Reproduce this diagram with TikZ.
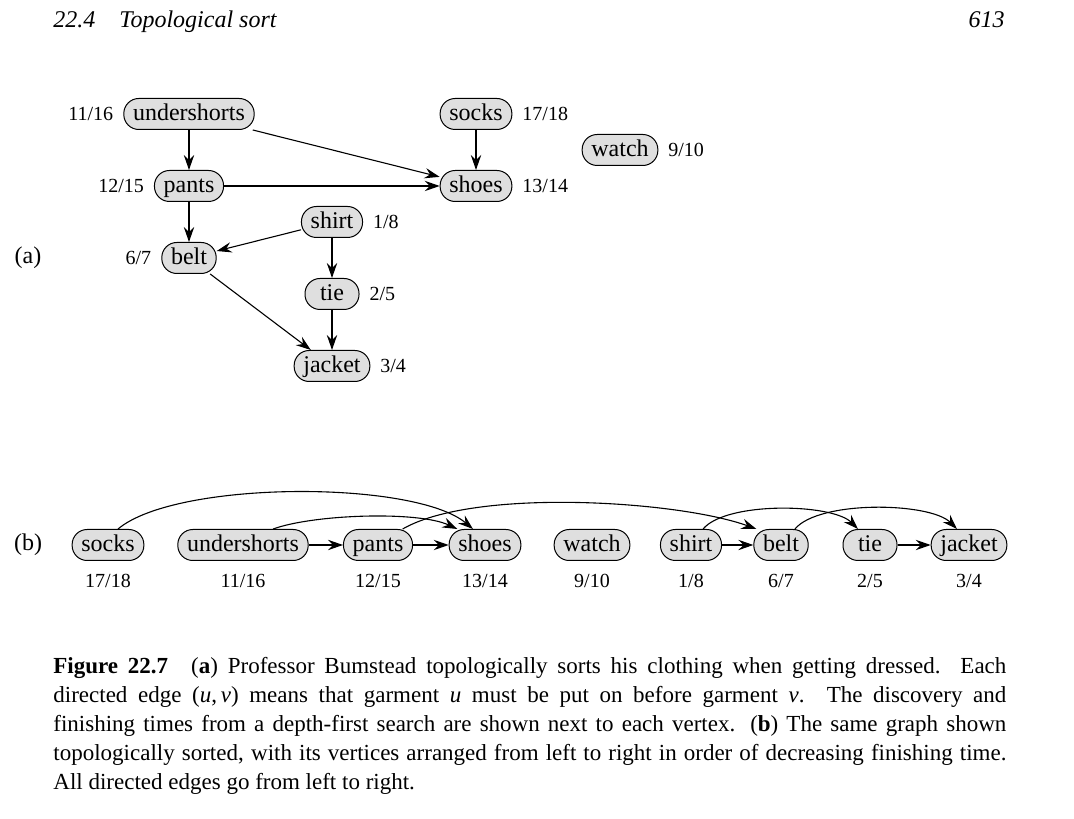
\documentclass[tikz,border=0pt]{standalone}
\usepackage{fontspec}
\setmainfont{Liberation Serif}
\usetikzlibrary{arrows.meta, positioning}

\tikzset{
  vertex/.style={draw, fill=gray!25, line width=0.5pt, rounded corners=7.5pt,
    minimum height=15.5pt, minimum width=27pt, inner xsep=4.6pt, inner ysep=2.25pt,
    text height=8.7pt, text depth=2.3pt, font=\fontsize{12}{14}\selectfont},
  stamp/.style={font=\fontsize{10}{12}\selectfont},
  edge/.style={-{Stealth[length=7.5pt,width=5.2pt,inset=2.6pt]}, line width=0.55pt},
}

\begin{document}
\begin{tikzpicture}[x=0.5pt, y=0.5pt, label distance=1.5pt]
  \useasboundingbox (0,0) rectangle (1074,818);

  % running head
  \node[anchor=base west, inner sep=0pt, font=\fontsize{12}{14}\selectfont\itshape] (head) at (53,790) {22.4\quad Topological sort};
  \node[anchor=base east, inner sep=0pt, font=\fontsize{12}{14}\selectfont\itshape] (page) at (1005,790) {613};

  % (a) the dag with discovery/finishing times
  \node[font=\fontsize{12}{14}\selectfont] (tag-a) at (28,560) {(a)};
  \node[vertex, label={[stamp]left:11/16}] (undershorts) at (189,704) {undershorts};
  \node[vertex, label={[stamp]right:17/18}] (socks) at (476,704) {socks};
  \node[vertex, label={[stamp]right:9/10}] (watch) at (620,668) {watch};
  \node[vertex, label={[stamp]left:12/15}] (pants) at (189,632) {pants};
  \node[vertex, label={[stamp]right:13/14}] (shoes) at (476,632) {shoes};
  \node[vertex, label={[stamp]right:1/8}] (shirt) at (332,596) {shirt};
  \node[vertex, label={[stamp]left:6/7}] (belt) at (189,560) {belt};
  \node[vertex, label={[stamp]right:2/5}] (tie) at (332,524) {tie};
  \node[vertex, label={[stamp]right:3/4}] (jacket) at (332,452) {jacket};

  \draw[edge] (undershorts) -- (pants);
  \draw[edge] (undershorts) -- (shoes);
  \draw[edge] (pants) -- (shoes);
  \draw[edge] (socks) -- (shoes);
  \draw[edge] (pants) -- (belt);
  \draw[edge] (shirt) -- (belt);
  \draw[edge] (shirt) -- (tie);
  \draw[edge] (tie) -- (jacket);
  \draw[edge] (belt) -- (jacket);

  % (b) the same vertices, topologically sorted
  \node[font=\fontsize{12}{14}\selectfont] (tag-b) at (28,273) {(b)};
  \begin{scope}[label distance=3pt]
    \node[vertex, label={[stamp]below:17/18}] (b-socks) at (108,273) {socks};
    \node[vertex, label={[stamp]below:11/16}] (b-undershorts) at (243,273) {undershorts};
    \node[vertex, label={[stamp]below:12/15}] (b-pants) at (378,273) {pants};
    \node[vertex, label={[stamp]below:13/14}] (b-shoes) at (485,273) {shoes};
    \node[vertex, label={[stamp]below:9/10}] (b-watch) at (592,273) {watch};
    \node[vertex, label={[stamp]below:1/8}] (b-shirt) at (691,273) {shirt};
    \node[vertex, label={[stamp]below:6/7}] (b-belt) at (781,273) {belt};
    \node[vertex, label={[stamp]below:2/5}] (b-tie) at (870,273) {tie};
    \node[vertex, label={[stamp]below:3/4}] (b-jacket) at (969,273) {jacket};
  \end{scope}

  \draw[edge] (b-undershorts) -- (b-pants);
  \draw[edge] (b-pants) -- (b-shoes);
  \draw[edge] (b-shirt) -- (b-belt);
  \draw[edge] (b-tie) -- (b-jacket);
  \draw[edge] (b-socks.58) to[out=40, in=140, looseness=0.55] (b-shoes.127);
  \draw[edge] (b-undershorts.28) to[out=20, in=155, looseness=0.6] (b-shoes.150);
  \draw[edge] (b-pants.33) to[out=30, in=160, looseness=0.6] (b-belt.147);
  \draw[edge] (b-shirt.53) to[out=50, in=135, looseness=0.6] (b-tie.127);
  \draw[edge] (b-belt.49) to[out=50, in=135, looseness=0.6] (b-jacket.127);

  % caption
  \node[anchor=north west, inner sep=0pt, text width=476.5pt, align=justify,
    font=\fontsize{11.5}{14.5}\selectfont] (caption) at (53,161)
    {\textbf{Figure 22.7}\quad (\textbf{a}) Professor Bumstead topologically sorts his clothing when getting dressed. Each\linebreak
     directed edge (\textit{u},\,\textit{v}) means that garment \textit{u} must be put on before garment \textit{v}. The discovery and\linebreak
     finishing times from a depth-first search are shown next to each vertex. (\textbf{b}) The same graph shown\linebreak
     topologically sorted, with its vertices arranged from left to right in order of decreasing finishing time.\linebreak
     All directed edges go from left to right.};
\end{tikzpicture}
\end{document}
